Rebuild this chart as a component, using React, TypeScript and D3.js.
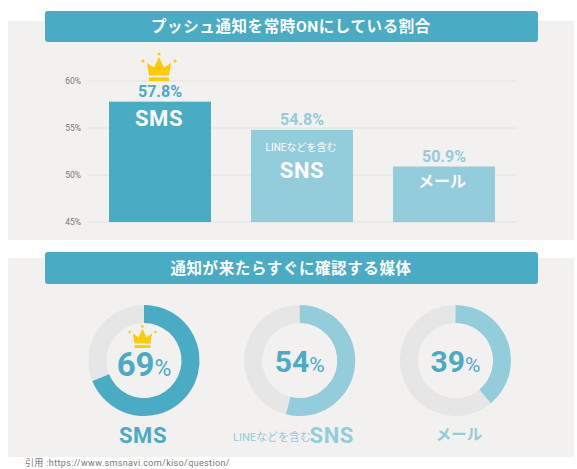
import React from "react";
import * as d3 from "d3";

const barTitle = "プッシュ通知を常時ONにしている割合";
const donutTitle = "通知が来たらすぐに確認する媒体";
const barCategories = ["SMS", "SNS", "メール"];
const barValues = [57.8, 54.8, 50.9];
const yTicks = [45, 50, 55, 60];
const donutCategories = ["SMS", "SNS", "メール"];
const donutValues = [69, 54, 39];
const sourceText = "引用 :https://www.smsnavi.com/kiso/question/";
const subLabel = "LINEなどを含む";

const DARK = "#4aabc5";
const LIGHT = "#93ccdb";
const PANEL = "#f2f1ef";
const GRID = "#e2e2e0";
const TRACK = "#e6e6e6";
const GOLD = "#ffcb05";
const FONT = "Roboto,'Noto Sans CJK JP',sans-serif";

const y = d3.scaleLinear().domain([45, 60]).range([222, 81]);
const xBand = d3.scaleBand<string>().domain(barCategories).range([88, 516]).paddingInner(40 / 142).paddingOuter(21 / 142);
const donutX = d3.scalePoint<string>().domain(donutCategories).range([144, 455.5]);
const pie = d3.pie<number>().sort(null).startAngle(0).endAngle(2 * Math.PI);

function Crown({ cx, base, s }: { cx: number; base: number; s: number }) {
  const body = d3.path();
  body.moveTo(-12 * s, -18 * s);
  body.lineTo(-5 * s, -13.5 * s);
  body.lineTo(0, -24 * s);
  body.lineTo(5 * s, -13.5 * s);
  body.lineTo(12 * s, -18 * s);
  body.lineTo(10 * s, -5.5 * s);
  body.lineTo(-10 * s, -5.5 * s);
  body.closePath();
  return (
    <g transform={`translate(${cx},${base})`} fill={GOLD}>
      <path d={body.toString()} />
      <rect x={-10 * s} y={-3.6 * s} width={20 * s} height={3.6 * s} />
      <circle cx={0} cy={-27 * s} r={1.6 * s} />
      <circle cx={-16 * s} cy={-20 * s} r={1.6 * s} />
      <circle cx={16 * s} cy={-20 * s} r={1.6 * s} />
    </g>
  );
}

function Header({ y0, h, text }: { y0: number; h: number; text: string }) {
  return (
    <g>
      <rect x={45} y={y0} width={493} height={h} rx={3} fill={DARK} />
      <text x={291} y={y0 + h / 2 + 5.5} textAnchor="middle" fill="#fff" fontSize={15.5} fontWeight={700} letterSpacing={0.6}>
        {text}
      </text>
    </g>
  );
}

export default function App() {
  const arc = d3.arc<d3.PieArcDatum<number>>().innerRadius(37.5).outerRadius(55.5);
  return (
    <svg width={577} height={469} style={{ position: "absolute", left: 0, top: 0 }} fontFamily={FONT}>
      <rect x={8} y={21} width={566} height={219} fill={PANEL} />
      <rect x={8} y={258} width={566} height={199} fill={PANEL} />
      <Header y0={11} h={31} text={barTitle} />
      <Header y0={252} h={32} text={donutTitle} />

      {yTicks.map((t) => (
        <g key={t}>
          <line x1={88} x2={516} y1={y(t)} y2={y(t)} stroke={GRID} />
          <text x={81} y={y(t) + 3} textAnchor="end" fontSize={8.5} fill="#777">{t}%</text>
        </g>
      ))}

      {barCategories.map((c, i) => {
        const x0 = xBand(c)!;
        const w = xBand.bandwidth();
        const cx = x0 + w / 2;
        const top = y(barValues[i]);
        const col = i === 0 ? DARK : LIGHT;
        return (
          <g key={c}>
            <rect x={x0} y={top} width={w} height={y(45) - top} fill={col} />
            <text x={cx} y={top - 5} textAnchor="middle" fontSize={16} fontWeight={700} fill={col}>{barValues[i]}%</text>
            {i === 0 && <text x={cx - 1} y={top + 24} textAnchor="middle" fontSize={22} fontWeight={700} letterSpacing={0.6} fill="#fff">{c}</text>}
            {i === 1 && (
              <>
                <text x={cx - 1} y={top + 21} textAnchor="middle" fontSize={10} fill="#fff">{subLabel}</text>
                <text x={cx} y={top + 48} textAnchor="middle" fontSize={22} fontWeight={700} letterSpacing={0.6} fill="#fff">{c}</text>
              </>
            )}
            {i === 2 && <text x={cx - 2} y={top + 20} textAnchor="middle" fontSize={16} fontWeight={700} fill="#fff">{c}</text>}
          </g>
        );
      })}
      <Crown cx={159} base={81} s={1} />

      {donutCategories.map((c, i) => {
        const v = donutValues[i];
        const cx = donutX(c)!;
        const arcs = pie([v, 100 - v]);
        const col = i === 0 ? DARK : LIGHT;
        return (
          <g key={c}>
            <g transform={`translate(${cx},360.5)`}>
              <path d={arc(arcs[1])!} fill={TRACK} />
              <path d={arc(arcs[0])!} fill={col} />
            </g>
            <text x={cx} y={i === 0 ? 376 : 372} textAnchor="middle" fill={DARK} fontWeight={700}>
              <tspan fontSize={i === 0 ? 33 : 30}>{v}</tspan>
              <tspan fontSize={i === 0 ? 23 : 21} fontWeight={400}>%</tspan>
            </text>
          </g>
        );
      })}
      <Crown cx={142.5} base={348} s={0.8} />

      <text x={143} y={443} textAnchor="middle" fontSize={22} fontWeight={700} letterSpacing={0.6} fill={DARK}>{donutCategories[0]}</text>
      <text x={233} y={441} fontSize={11} fill={LIGHT}>{subLabel}</text>
      <text x={354} y={443} textAnchor="end" fontSize={22} fontWeight={700} letterSpacing={0.6} fill={LIGHT}>{donutCategories[1]}</text>
      <text x={459} y={440} textAnchor="middle" fontSize={15.5} fontWeight={700} fill={LIGHT}>{donutCategories[2]}</text>

      <text x={25} y={466} fontSize={9} fill="#777" letterSpacing={0.36}>{sourceText}</text>
    </svg>
  );
}
